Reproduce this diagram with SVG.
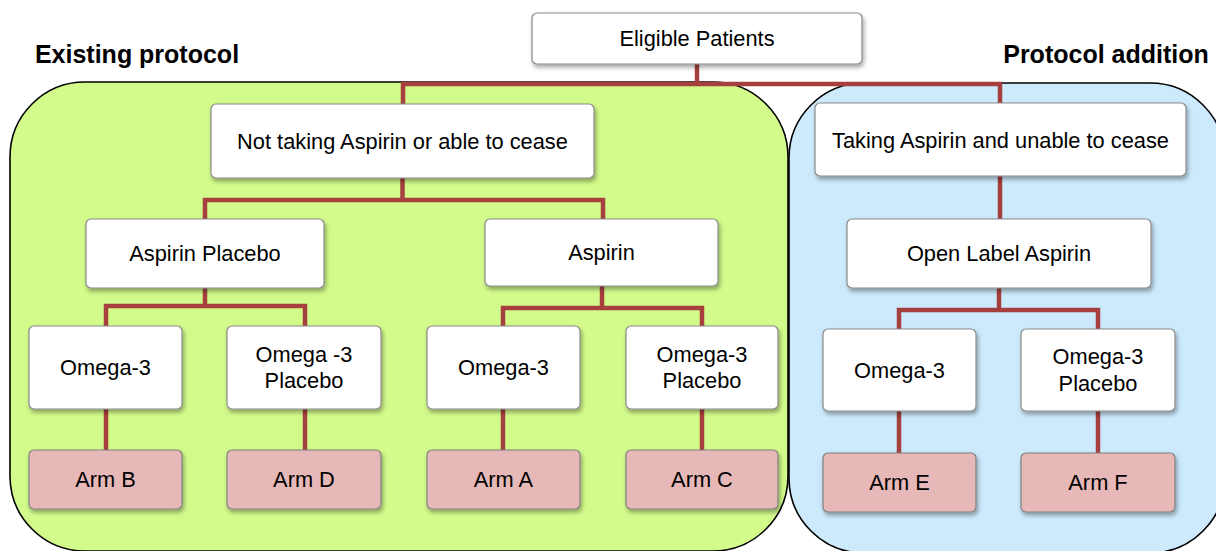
<svg xmlns="http://www.w3.org/2000/svg" width="1216" height="551" viewBox="0 0 1216 551">
  <defs>
    <filter id="shadow" x="-10%" y="-10%" width="125%" height="135%">
      <feDropShadow dx="1.5" dy="3" stdDeviation="2" flood-color="#000" flood-opacity="0.35"/>
    </filter>
    <style>
      .title { font-family: "Liberation Sans", Arial, sans-serif; font-weight: bold; font-size: 25px; fill: #000; text-anchor: middle; }
      .label { font-family: "Liberation Sans", Arial, sans-serif; font-size: 21.8px; fill: #000; text-anchor: middle; }
      .box { fill: #ffffff; stroke: #8a8a8a; stroke-width: 1.2; filter: url(#shadow); }
      .arm { fill: #e6b8b7; stroke: #808080; stroke-width: 1.2; filter: url(#shadow); }
      .link { fill: none; stroke: #a5403e; stroke-width: 4.5; stroke-linejoin: miter; }
      .region { stroke: #000; stroke-width: 1.6; }
    </style>
  </defs>

  <rect width="1216" height="551" fill="#ffffff"/>

  <!-- protocol regions -->
  <g id="region-existing">
    <rect class="region" x="10" y="82" width="778" height="469" rx="75" ry="75" fill="#d3fb8b"/>
  </g>
  <g id="region-addition">
    <rect class="region" x="789" y="83" width="436" height="470" rx="75" ry="75" fill="#cdeafd"/>
  </g>

  <text class="title" x="137" y="63">Existing protocol</text>
  <text class="title" x="1106" y="63">Protocol addition</text>

  <!-- connectors -->
  <g id="connectors">
    <path class="link" d="M697,64 V84"/>
    <path class="link" d="M403,104 V84 H1000 V103"/>
    <path class="link" d="M402.5,178 V200"/>
    <path class="link" d="M205,219 V200 H603 V219"/>
    <path class="link" d="M205,288 V306"/>
    <path class="link" d="M106,326 V306 H305 V326"/>
    <path class="link" d="M602,286 V308"/>
    <path class="link" d="M503,326 V308 H702 V326"/>
    <path class="link" d="M1000,176 V219"/>
    <path class="link" d="M999,288 V310"/>
    <path class="link" d="M899,329 V310 H1098 V329"/>
    <path class="link" d="M106,409 V450"/>
    <path class="link" d="M305,409 V450"/>
    <path class="link" d="M503,409 V450"/>
    <path class="link" d="M702,409 V450"/>
    <path class="link" d="M899,411 V453"/>
    <path class="link" d="M1098,411 V453"/>
  </g>

  <!-- nodes -->
  <g id="eligible">
    <rect class="box" x="532" y="13" width="330" height="51" rx="5"/>
    <text class="label" x="697" y="46">Eligible Patients</text>
  </g>
  <g id="not-taking">
    <rect class="box" x="211" y="104" width="383" height="74" rx="5"/>
    <text class="label" x="402.5" y="149">Not taking Aspirin or able to cease</text>
  </g>
  <g id="taking">
    <rect class="box" x="815" y="103" width="371" height="73" rx="5"/>
    <text class="label" x="1000.5" y="148">Taking Aspirin and unable to cease</text>
  </g>
  <g id="aspirin-placebo">
    <rect class="box" x="86" y="219" width="238" height="69" rx="5"/>
    <text class="label" x="205" y="261">Aspirin Placebo</text>
  </g>
  <g id="aspirin">
    <rect class="box" x="485" y="219" width="233" height="67" rx="5"/>
    <text class="label" x="601.5" y="260">Aspirin</text>
  </g>
  <g id="open-label">
    <rect class="box" x="847" y="219" width="304" height="69" rx="5"/>
    <text class="label" x="999" y="261">Open Label Aspirin</text>
  </g>

  <g id="omega-b">
    <rect class="box" x="29" y="326" width="153" height="83" rx="5"/>
    <text class="label" x="105.5" y="375">Omega-3</text>
  </g>
  <g id="omega-placebo-d">
    <rect class="box" x="227" y="326" width="154" height="83" rx="5"/>
    <text class="label" x="304" y="362">Omega -3</text>
    <text class="label" x="304" y="388">Placebo</text>
  </g>
  <g id="omega-a">
    <rect class="box" x="427" y="326" width="153" height="83" rx="5"/>
    <text class="label" x="503.5" y="375">Omega-3</text>
  </g>
  <g id="omega-placebo-c">
    <rect class="box" x="626" y="326" width="152" height="83" rx="5"/>
    <text class="label" x="702" y="362">Omega-3</text>
    <text class="label" x="702" y="388">Placebo</text>
  </g>
  <g id="omega-e">
    <rect class="box" x="823" y="329" width="153" height="82" rx="5"/>
    <text class="label" x="899.5" y="378">Omega-3</text>
  </g>
  <g id="omega-placebo-f">
    <rect class="box" x="1021" y="329" width="154" height="82" rx="5"/>
    <text class="label" x="1098" y="364">Omega-3</text>
    <text class="label" x="1098" y="391">Placebo</text>
  </g>

  <g id="arm-b">
    <rect class="arm" x="29" y="450" width="153" height="59" rx="5"/>
    <text class="label" x="105.5" y="487">Arm B</text>
  </g>
  <g id="arm-d">
    <rect class="arm" x="227" y="450" width="154" height="59" rx="5"/>
    <text class="label" x="304" y="487">Arm D</text>
  </g>
  <g id="arm-a">
    <rect class="arm" x="427" y="450" width="153" height="59" rx="5"/>
    <text class="label" x="503.5" y="487">Arm A</text>
  </g>
  <g id="arm-c">
    <rect class="arm" x="626" y="450" width="152" height="59" rx="5"/>
    <text class="label" x="702" y="487">Arm C</text>
  </g>
  <g id="arm-e">
    <rect class="arm" x="823" y="453" width="153" height="59" rx="5"/>
    <text class="label" x="899.5" y="490">Arm E</text>
  </g>
  <g id="arm-f">
    <rect class="arm" x="1021" y="453" width="154" height="59" rx="5"/>
    <text class="label" x="1098" y="490">Arm F</text>
  </g>
</svg>
